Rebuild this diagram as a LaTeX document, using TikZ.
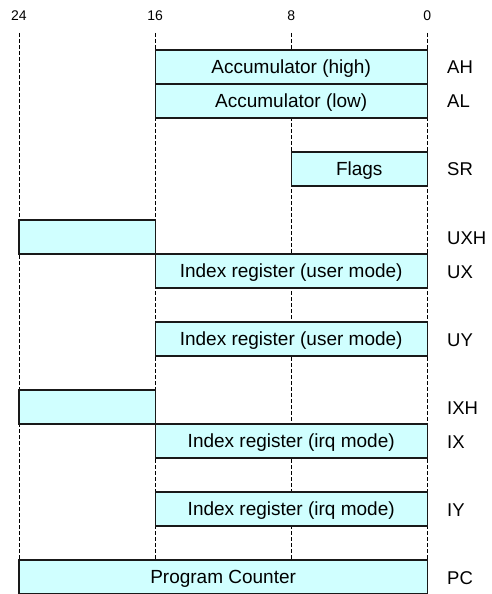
\documentclass[tikz,border=0pt]{standalone}
\usepackage{fontspec}
\setmainfont{Liberation Sans}
\begin{document}
\begin{tikzpicture}[x=1bp,y=-1bp,
  reg/.style={draw=black!90, line width=1.2bp, fill=regfill, inner sep=0pt,
    minimum height=34bp, text height=13bp, text depth=0pt,
    font=\fontsize{19bp}{22bp}\selectfont},
  rlabel/.style={anchor=base west, inner sep=0pt, font=\fontsize{18.5bp}{22bp}\selectfont},
  bitlabel/.style={inner sep=0pt, font=\fontsize{14bp}{16bp}\selectfont},
  guide/.style={line width=0.8bp, dash pattern=on 4bp off 2bp}]
\definecolor{regfill}{HTML}{D0FFFF}
\useasboundingbox (0,0) rectangle (492,594);
% bit positions
\def\xa{19}      % bit 24
\def\xb{155.1}   % bit 16
\def\xc{291.2}   % bit 8
\def\xd{427.3}   % bit 0
% top bit labels
\node[bitlabel] (n24) at (\xa,16) {24};
\node[bitlabel] (n16) at (\xb,16) {16};
\node[bitlabel] (n8)  at (\xc,16) {8};
\node[bitlabel] (n0)  at (\xd,16) {0};
% guide lines
\foreach \n/\x in {24/\xa,16/\xb,8/\xc,0/\xd}{
  \coordinate (t\n) at (\x,33);
  \coordinate (b\n) at (\x,560);
  \draw[guide] (t\n) -- (b\n);
}
% registers: row top = 50 + 34*i
\node[reg, minimum width=272.2bp] (ah)  at ({(\xb+\xd)/2},67)  {Accumulator (high)};
\node[reg, minimum width=272.2bp] (al)  at ({(\xb+\xd)/2},101) {Accumulator (low)};
\node[reg, minimum width=136.1bp] (sr)  at ({(\xc+\xd)/2},169) {Flags};
\node[reg, minimum width=136.1bp] (uxh) at ({(\xa+\xb)/2},237) {};
\node[reg, minimum width=272.2bp] (ux)  at ({(\xb+\xd)/2},271) {Index register (user mode)};
\node[reg, minimum width=272.2bp] (uy)  at ({(\xb+\xd)/2},339) {Index register (user mode)};
\node[reg, minimum width=136.1bp] (ixh) at ({(\xa+\xb)/2},407) {};
\node[reg, minimum width=272.2bp] (ix)  at ({(\xb+\xd)/2},441) {Index register (irq mode)};
\node[reg, minimum width=272.2bp] (iy)  at ({(\xb+\xd)/2},509) {Index register (irq mode)};
\node[reg, minimum width=408.3bp] (pc)  at ({(\xa+\xd)/2},577) {Program Counter};
% register names
\node[rlabel] (lah)  at (447,74)  {AH};
\node[rlabel] (lal)  at (447,108) {AL};
\node[rlabel] (lsr)  at (447,176) {SR};
\node[rlabel] (luxh) at (447,244) {UXH};
\node[rlabel] (lux)  at (447,278) {UX};
\node[rlabel] (luy)  at (447,346) {UY};
\node[rlabel] (lixh) at (447,414) {IXH};
\node[rlabel] (lix)  at (447,448) {IX};
\node[rlabel] (liy)  at (447,516) {IY};
\node[rlabel] (lpc)  at (447,584) {PC};
\end{tikzpicture}
\end{document}
